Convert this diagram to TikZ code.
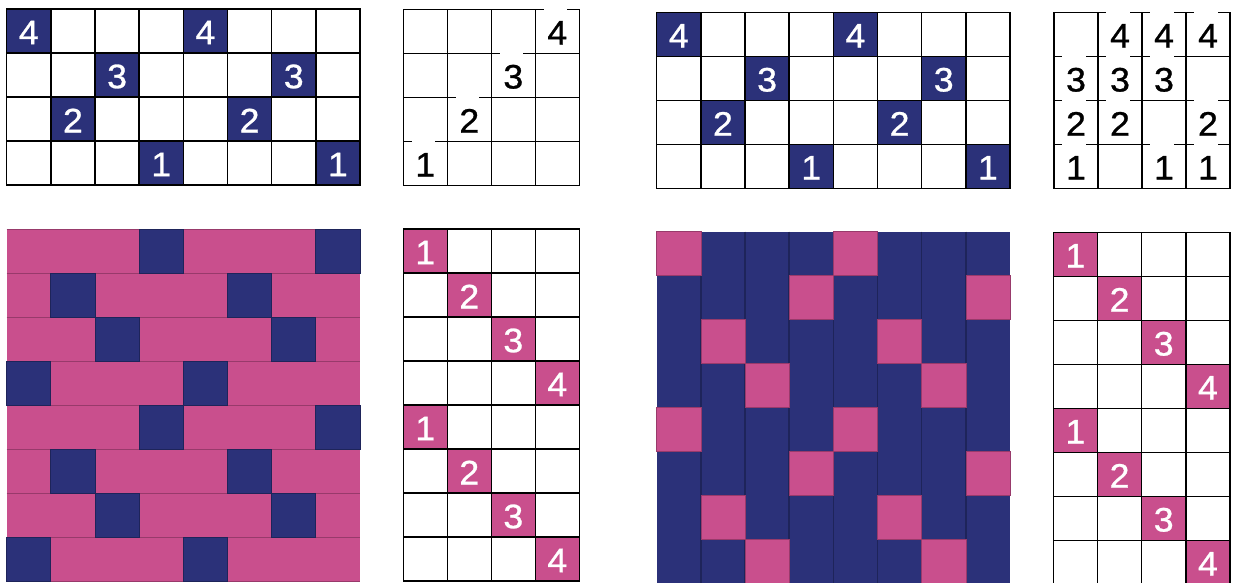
\documentclass[tikz,border=0pt]{standalone}
\usepackage{fontspec}
\setmainfont{Liberation Sans}
\newfontfamily\digfam[FakeBold=0.8]{Liberation Sans}
\definecolor{navy}{HTML}{2B3179}
\definecolor{pinkc}{HTML}{C94F8D}
\definecolor{pinkline}{HTML}{983A6B}
\definecolor{navyline}{HTML}{1E245A}
\newcommand{\digfont}{\digfam\fontsize{34pt}{34pt}\selectfont}
\begin{document}
\begin{tikzpicture}[x=1pt,y=-1pt,
  gridline/.style={draw=black,line width=1.4pt},
  dig/.style={font=\digfont, inner sep=0pt, anchor=center},
  wdig/.style={dig,text=white},
  bdig/.style={dig,text=black},
  navycell/.style={fill=navy},
  pinkcell/.style={fill=pinkc},
  gapcover/.style={fill=white},
]
\useasboundingbox (0,0) rectangle (1233,582);
\clip (0,0) rectangle (1233,582);
\fill[white] (0,0) rectangle (1233,582);

% ---------- Panel A (top left) ----------
\begin{scope}[shift={(6.7,9)}]
  \foreach \r/\c/\n in {1/1/4,1/5/4,2/3/3,2/7/3,3/2/2,3/6/2,4/4/1,4/8/1}{
    \fill[navycell] ({(\c-1)*44.16},{(\r-1)*44}) rectangle ++(44.16,44);
    \node[wdig] (A-\r-\c) at ({(\c-0.5)*44.16},{(\r-0.5)*44+1.5}) {\scalebox{1.05}[1]{\n}};
  }
  \foreach \i in {1,...,7} \draw[gridline] ({\i*44.16},0) -- ({\i*44.16},176);
  \foreach \j in {1,...,3} \draw[gridline] (0,{\j*44}) -- (353.3,{\j*44});
  \draw[gridline] (0,0) rectangle (353.3,176);
\end{scope}

% ---------- Panel B ----------
\begin{scope}[shift={(403.3,9.3)}]
  \foreach \i in {1,...,3} \draw[gridline] ({\i*44},0) -- ({\i*44},176);
  \foreach \j in {1,...,3} \draw[gridline] (0,{\j*44}) -- (176,{\j*44});
  \draw[gridline] (0,0) rectangle (176,176);
  \foreach \r/\c/\n in {1/4/4,2/3/3,3/2/2,4/1/1}{
    \fill[gapcover] ({(\c-1+0.19)*44},{(\r-1)*44-1.6}) rectangle ({(\c-1+0.72)*44},{(\r-1)*44+1.6});
    \node[bdig] (B-\r-\c) at ({(\c-0.5)*44},{(\r-0.5)*44+1.5}) {\scalebox{1.05}[1]{\n}};
  }
\end{scope}

% ---------- Panel C ----------
\begin{scope}[shift={(656.7,12.3)}]
  \foreach \r/\c/\n in {1/1/4,1/5/4,2/3/3,2/7/3,3/2/2,3/6/2,4/4/1,4/8/1}{
    \fill[navycell] ({(\c-1)*44.16},{(\r-1)*44}) rectangle ++(44.16,44);
    \node[wdig] (C-\r-\c) at ({(\c-0.5)*44.16},{(\r-0.5)*44+1.5}) {\scalebox{1.05}[1]{\n}};
  }
  \foreach \i in {1,...,7} \draw[gridline] ({\i*44.16},0) -- ({\i*44.16},176);
  \foreach \j in {1,...,3} \draw[gridline] (0,{\j*44}) -- (353.3,{\j*44});
  \draw[gridline] (0,0) rectangle (353.3,176);
\end{scope}

% ---------- Panel D ----------
\begin{scope}[shift={(1054,12.3)}]
  \foreach \i in {1,...,3} \draw[gridline] ({\i*44},0) -- ({\i*44},176);
  \foreach \j in {1,...,3} \draw[gridline] (0,{\j*44}) -- (176,{\j*44});
  \draw[gridline] (0,0) rectangle (176,176);
  \foreach \r/\c/\n in {1/2/4,1/3/4,1/4/4,2/1/3,2/2/3,2/3/3,3/1/2,3/2/2,3/4/2,4/1/1,4/3/1,4/4/1}{
    \fill[gapcover] ({(\c-1+0.19)*44},{(\r-1)*44-1.6}) rectangle ({(\c-1+0.72)*44},{(\r-1)*44+1.6});
    \node[bdig] (D-\r-\c) at ({(\c-0.5)*44},{(\r-0.5)*44+1.5}) {\scalebox{1.05}[1]{\n}};
  }
\end{scope}

% ---------- Panel E (weft-faced weave) ----------
\begin{scope}[shift={(6.7,229)}]
  \fill[pinkcell] (0,0) rectangle (353.3,352);
  \foreach \j in {0,...,8} \draw[pinkline,line width=1pt] (0,{\j*44}) -- (353.3,{\j*44});
  \foreach \r/\c in {1/4,1/8,2/2,2/6,3/3,3/7,4/1,4/5,5/4,5/8,6/2,6/6,7/3,7/7,8/1,8/5}{
    \filldraw[fill=navy,draw=navyline,line width=0.8pt] ({(\c-1)*44.16},{(\r-1)*44}) rectangle ++(44.16,44);
  }
\end{scope}

% ---------- Panel F ----------
\begin{scope}[shift={(403.3,229)}]
  \foreach \r/\c/\n in {1/1/1,2/2/2,3/3/3,4/4/4,5/1/1,6/2/2,7/3/3,8/4/4}{
    \fill[pinkcell] ({(\c-1)*44},{(\r-1)*44}) rectangle ++(44,44);
    \node[wdig] (F-\r-\c) at ({(\c-0.5)*44},{(\r-0.5)*44+1.5}) {\scalebox{1.05}[1]{\n}};
  }
  \foreach \i in {1,...,3} \draw[gridline] ({\i*44},0) -- ({\i*44},352);
  \foreach \j in {1,...,7} \draw[gridline] (0,{\j*44}) -- (176,{\j*44});
  \draw[gridline] (0,0) rectangle (176,352);
\end{scope}

% ---------- Panel G (warp-faced weave) ----------
\begin{scope}[shift={(656.7,231.7)}]
  \fill[navycell] (0,0) rectangle (353.3,352);
  \foreach \i in {1,...,7} \draw[navyline,line width=1.4pt] ({\i*44.16},0) -- ({\i*44.16},352);
  \foreach \r/\c in {1/1,1/5,2/4,2/8,3/2,3/6,4/3,4/7,5/1,5/5,6/4,6/8,7/2,7/6,8/3,8/7}{
    \filldraw[fill=pinkc,draw=pinkline,line width=0.6pt] ({(\c-1)*44.16},{(\r-1)*44}) rectangle ++(44.16,44);
  }
\end{scope}

% ---------- Panel H ----------
\begin{scope}[shift={(1053.3,232.3)}]
  \foreach \r/\c/\n in {1/1/1,2/2/2,3/3/3,4/4/4,5/1/1,6/2/2,7/3/3,8/4/4}{
    \fill[pinkcell] ({(\c-1)*44.17},{(\r-1)*44}) rectangle ++(44.17,44);
    \node[wdig] (H-\r-\c) at ({(\c-0.5)*44.17},{(\r-0.5)*44+1.5}) {\scalebox{1.05}[1]{\n}};
  }
  \foreach \i in {1,...,3} \draw[gridline] ({\i*44.17},0) -- ({\i*44.17},352);
  \foreach \j in {1,...,7} \draw[gridline] (0,{\j*44}) -- (176.7,{\j*44});
  \draw[gridline] (0,0) rectangle (176.7,352);
\end{scope}
\end{tikzpicture}
\end{document}
